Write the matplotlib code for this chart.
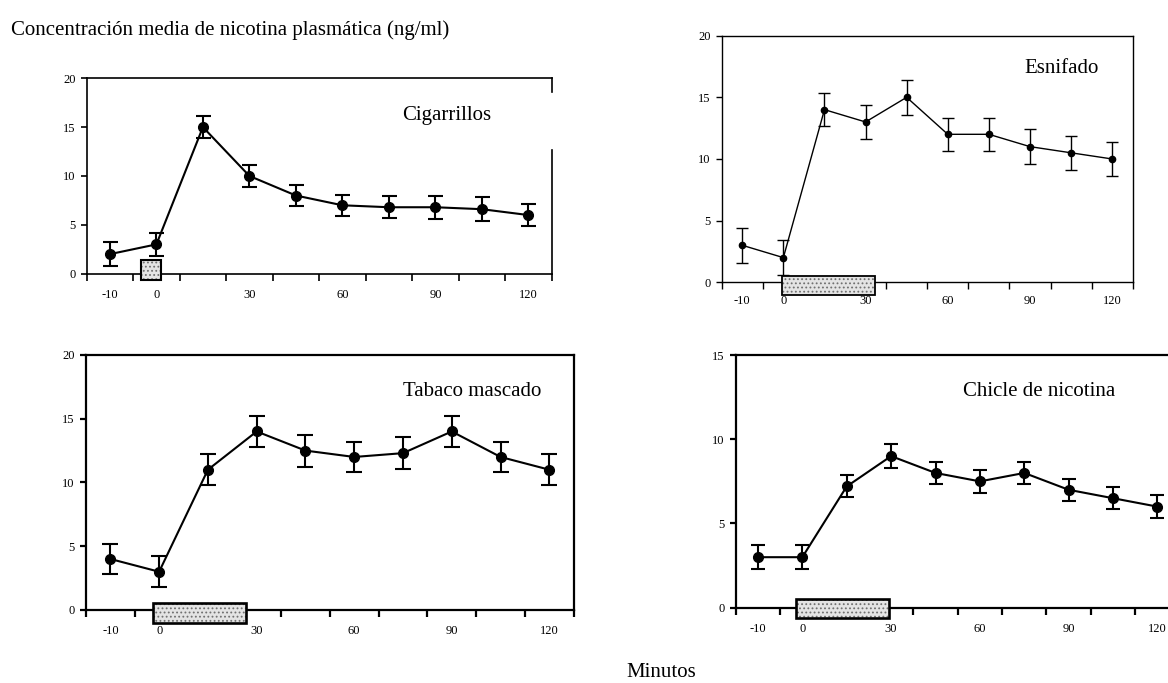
import matplotlib
matplotlib.use("Agg")
import matplotlib.pyplot as plt
from matplotlib.patches import Rectangle
import numpy as np

plt.rcParams["font.family"] = ["Liberation Serif", "DejaVu Serif"]
plt.rcParams["hatch.linewidth"] = 0.8

# time points (minutes) -> plotted as equally spaced categories
minutes = [-10, 0, 15, 30, 45, 60, 75, 90, 105, 120]
xlabels = ["-10", "0", "", "30", "", "60", "", "90", "", "120"]

cig_mean = [2, 3, 15, 10, 8, 7, 6.8, 6.8, 6.6, 6]
cig_err = [1.2, 1.2, 1.1, 1.1, 1.1, 1.1, 1.1, 1.2, 1.2, 1.1]

snuff_mean = [3, 2, 14, 13, 15, 12, 12, 11, 10.5, 10]
snuff_err = [1.4, 1.4, 1.35, 1.4, 1.4, 1.35, 1.35, 1.4, 1.4, 1.4]

chew_mean = [4, 3, 11, 14, 12.5, 12, 12.3, 14, 12, 11]
chew_err = [1.2, 1.2, 1.2, 1.2, 1.25, 1.2, 1.25, 1.2, 1.2, 1.2]

gum_mean = [3, 3, 7.2, 9, 8, 7.5, 8, 7, 6.5, 6]
gum_err = [0.7, 0.7, 0.65, 0.7, 0.65, 0.7, 0.65, 0.65, 0.65, 0.7]

# exposure period box (category units, y data units)
cig_box = (1.17, 1.59, -0.6, 1.4)
snuff_box = (1.46, 3.74, -1.0, 0.5)
chew_box = (1.38, 3.29, -1.0, 0.52)
gum_box = (1.35, 3.46, -0.63, 0.5)

fig = plt.figure(figsize=(11.68, 6.83), dpi=100)


def panel(rect, mean, err, box, ymax, title, tpos, ms, lw, cap, spw, xpad=11, fs=15):
    ax = fig.add_axes(rect)
    x = np.arange(len(minutes))
    ax.errorbar(x, mean, yerr=err, color="black", marker="o", markersize=ms,
                linewidth=lw, elinewidth=lw, capsize=cap, capthick=lw,
                clip_on=False, zorder=3)
    ax.set_xlim(-0.5, len(minutes) - 0.5)
    ax.set_ylim(0, ymax)
    ax.set_yticks(np.arange(0, ymax + 1, 5))
    ax.set_xticks(np.arange(-0.5, len(minutes), 1))
    ax.set_xticklabels([])
    ax.set_xticks(x, minor=True)
    ax.set_xticklabels(xlabels, minor=True)
    ax.tick_params(axis="x", which="major", direction="out", length=5, width=spw)
    ax.tick_params(axis="x", which="minor", length=0, pad=xpad, labelsize=9)
    ax.tick_params(axis="y", direction="out", length=4, width=spw, pad=4, labelsize=9)
    for s in ax.spines.values():
        s.set_linewidth(spw)
    x0, x1, y0, y1 = box
    ax.add_patch(Rectangle((x0 - 0.5, y0), x1 - x0, y1 - y0, facecolor="#e4e4e4",
                           edgecolor="#707070", hatch="....", linewidth=0,
                           clip_on=False, zorder=4))
    ax.add_patch(Rectangle((x0 - 0.5, y0), x1 - x0, y1 - y0, fill=False,
                           edgecolor="black", linewidth=spw + 0.3,
                           clip_on=False, zorder=5))
    ax.text(tpos[0], tpos[1], title, transform=ax.transAxes, ha="center",
            va="center", fontsize=fs)
    return ax


ax1 = panel([0.0742, 0.5993, 0.3981, 0.2861], cig_mean, cig_err, cig_box, 20,
            "Cigarrillos", (0.774, 0.811), 7, 1.5, 5.4, 1.2)
# broken right frame of the first panel
ax1.spines["right"].set_visible(False)
ax1.plot([1, 1], [0.93, 1.0], transform=ax1.transAxes, color="black", lw=1.2, clip_on=False)
ax1.plot([1, 1], [0.0, 0.635], transform=ax1.transAxes, color="black", lw=1.2, clip_on=False)

panel([0.6179, 0.5867, 0.3519, 0.3611], snuff_mean, snuff_err, snuff_box, 20,
      "Esnifado", (0.826, 0.865), 4.5, 1.0, 4.4, 1.0, xpad=9.5)
panel([0.0736, 0.1069, 0.4176, 0.3734], chew_mean, chew_err, chew_box, 20,
      "Tabaco mascado", (0.792, 0.856), 7, 1.5, 5.6, 1.6)
panel([0.6299, 0.1102, 0.3801, 0.3700], gum_mean, gum_err, gum_box, 15,
      "Chicle de nicotina", (0.684, 0.855), 7, 1.5, 5.2, 1.6)

fig.text(0.009, 0.956, "Concentración media de nicotina plasmática (ng/ml)",
         ha="left", va="center", fontsize=15)
fig.text(0.566, 0.016, "Minutos", ha="center", va="center", fontsize=15)

fig.savefig("out.png", dpi=100)
